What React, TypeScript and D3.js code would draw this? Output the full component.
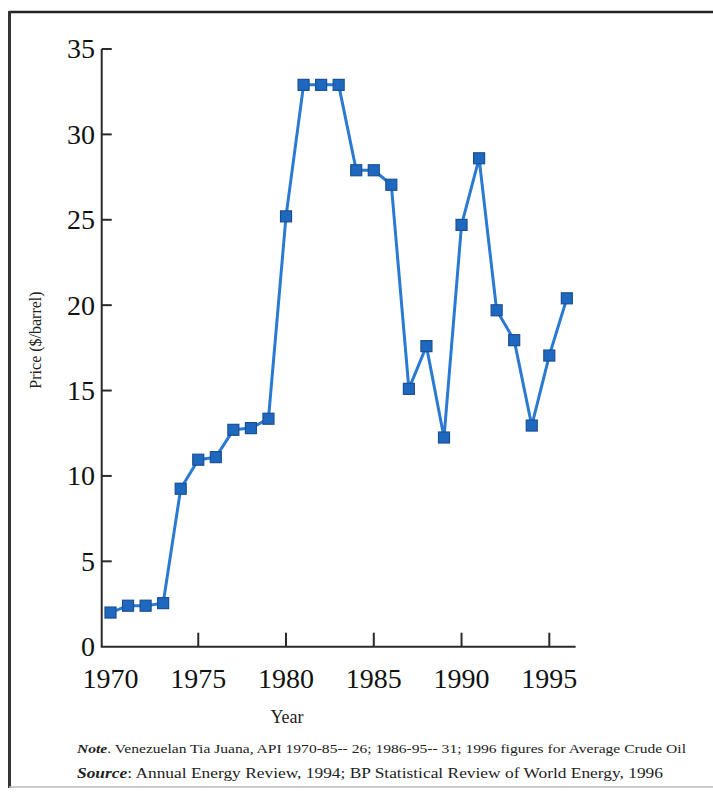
import React from "react";
import * as d3 from "d3";

const years = [1970,1971,1972,1973,1974,1975,1976,1977,1978,1979,1980,1981,1982,1983,1984,1985,1986,1987,1988,1989,1990,1991,1992,1993,1994,1995,1996];
const prices = [2.0,2.4,2.4,2.55,9.25,10.95,11.1,12.7,12.8,13.35,25.2,32.9,32.9,32.9,27.9,27.9,27.05,15.1,17.6,12.25,24.7,28.6,19.7,17.95,12.95,17.05,20.4];
const yTicks = [0,5,10,15,20,25,30,35];
const xTicks = [1975,1980,1985,1990,1995];
const xTickLabels = [1970,1975,1980,1985,1990,1995];
const yLabel = "Price ($/barrel)";
const xLabel = "Year";
const noteLead = "Note";
const noteText = ". Venezuelan Tia Juana, API 1970-85-- 26; 1986-95-- 31; 1996 figures for Average Crude Oil";
const sourceLead = "Source";
const sourceText = ":  Annual Energy Review, 1994; BP Statistical Review of World Energy, 1996";

const W = 713, H = 797;
const serif = "'Liberation Serif', 'Times New Roman', serif";

export default function App() {
  const x = d3.scaleLinear().domain([1970, 1995]).range([110.5, 549.3]);
  const y = d3.scaleLinear().domain([0, 35]).range([646.7, 49]);
  const line = d3.line<number>().x((_, i) => x(years[i])).y((d) => y(d));
  const ms = 11;
  const axisColor = "#2a2a2a";
  return (
    <svg width={W} height={H} style={{ position: "absolute", left: 0, top: 0, background: "#fff" }}>
      {/* frame */}
      <line x1={9} x2={W} y1={12} y2={12} stroke="#222" strokeWidth={2.5} />
      <line x1={9.5} x2={9.5} y1={11} y2={788} stroke="#333" strokeWidth={3} />
      <line x1={9} x2={W} y1={787} y2={787} stroke="#bbb" strokeWidth={1.5} />

      {/* axes */}
      <line x1={x(1969.5)} x2={x(1969.5)} y1={y(35)} y2={y(0)} stroke={axisColor} strokeWidth={2} />
      <line x1={x(1969.5) - 1} x2={x(1996.5)} y1={y(0)} y2={y(0)} stroke={axisColor} strokeWidth={2} />
      {yTicks.filter((t) => t > 0).map((t) => (
        <line key={"yt" + t} x1={x(1969.5)} x2={x(1969.5) + 10} y1={y(t)} y2={y(t)} stroke={axisColor} strokeWidth={2} />
      ))}
      {xTicks.map((t) => (
        <line key={"xt" + t} x1={x(t)} x2={x(t)} y1={y(0)} y2={y(0) - 14} stroke={axisColor} strokeWidth={2} />
      ))}
      {yTicks.map((t) => (
        <text key={"yl" + t} x={95} y={y(t) + 3} textAnchor="end" dominantBaseline="middle" fontFamily={serif} fontSize={28} fill="#111">
          {t}
        </text>
      ))}
      {xTickLabels.map((t) => (
        <text key={"xl" + t} x={x(t)} y={688} textAnchor="middle" fontFamily={serif} fontSize={28} fill="#111">
          {t}
        </text>
      ))}
      <text x={287} y={723} textAnchor="middle" fontFamily={serif} fontSize={18} fill="#222">{xLabel}</text>
      <text transform={`translate(41,340) rotate(-90)`} textAnchor="middle" fontFamily={serif} fontSize={16} fill="#222">{yLabel}</text>

      {/* series */}
      <path d={line(prices) || ""} fill="none" stroke="#2a7ad3" strokeWidth={3} strokeLinejoin="round" />
      {prices.map((p, i) => (
        <rect key={"m" + i} x={x(years[i]) - ms / 2} y={y(p) - ms / 2} width={ms} height={ms} fill="#1f68c0" stroke="#1b4f93" strokeWidth={1.2} />
      ))}

      {/* notes */}
      <text x={77} y={753} fontFamily={serif} fontSize={12.5} fill="#222" textLength={609} lengthAdjust="spacingAndGlyphs">
        <tspan fontStyle="italic" fontWeight="bold">{noteLead}</tspan>
        <tspan>{noteText}</tspan>
      </text>
      <text x={77} y={778} fontFamily={serif} fontSize={14.5} fill="#222" textLength={586} lengthAdjust="spacingAndGlyphs">
        <tspan fontStyle="italic" fontWeight="bold">{sourceLead}</tspan>
        <tspan>{sourceText}</tspan>
      </text>
    </svg>
  );
}
